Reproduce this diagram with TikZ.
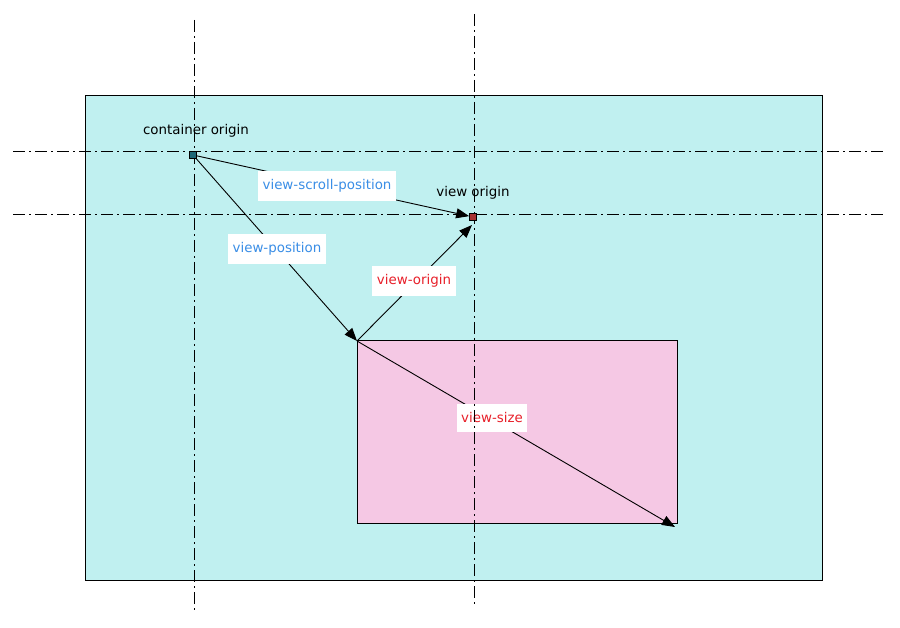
\documentclass[tikz,border=0pt]{standalone}
\usepackage{fontspec}
\setmainfont{DejaVu Sans}
\usetikzlibrary{arrows.meta}
\definecolor{cyanbg}{HTML}{C0F0F0}
\definecolor{pinkbg}{HTML}{F5C8E4}
\definecolor{bluetxt}{HTML}{3A8EE6}
\definecolor{redtxt}{HTML}{E8202A}
\definecolor{tealsq}{HTML}{1E6878}
\definecolor{redsq}{HTML}{A83232}
\tikzset{
  axisline/.style={line width=1pt, dash pattern=on 12pt off 4pt on 2pt off 4pt},
  conn/.style={line width=0.9pt, -{Triangle[length=13pt,width=10pt]}},
  lbl/.style={fill=white, inner xsep=4.5pt, inner ysep=9pt, font=\fontsize{13.4}{15}\selectfont},
  plain/.style={font=\fontsize{13.4}{15}\selectfont, inner sep=0pt},
  origsq/.style={draw=black, line width=0.7pt, minimum size=7pt, inner sep=0pt},
}
\begin{document}
\begin{tikzpicture}[x=1pt,y=-1pt]
\useasboundingbox (0,0) rectangle (900,628);
% containers
\node[draw=black, line width=0.8pt, fill=cyanbg, minimum width=737pt, minimum height=485pt, inner sep=0pt, anchor=north west] (outer) at (85,95) {};
\node[draw=black, line width=0.8pt, fill=pinkbg, minimum width=320pt, minimum height=183pt, inner sep=0pt, anchor=north west] (view) at (357,340) {};
% origin squares (positions)
\node[origsq, fill=tealsq] (co) at (193,155) {};
\node[origsq, fill=redsq] (vo) at (473,217) {};
\coordinate (vtl) at (357,341);
\coordinate (vbr) at (675,527);
\coordinate (vtip) at (472,225);
% connectors
\draw[conn] (co) -- (vtl);
\draw[conn] (co) -- (vo);
\draw[conn] (vtl) -- (vtip);
\draw[conn] (vtl) -- (vbr);
% labels
\node[lbl, text=bluetxt] (lscroll) at (327,186) {view-scroll-position};
\node[lbl, text=bluetxt] (lpos) at (277,249) {view-position};
\node[lbl, text=redtxt] (lorig) at (414,281) {view-origin};
\node[lbl, text=redtxt] (lsize) at (492,418) {view-size};
\node[plain] (tco) at (196,131) {container origin};
\node[plain] (tvo) at (473,193) {view origin};
% axis lines
\coordinate (v1a) at (194,20); \coordinate (v1b) at (194,610);
\coordinate (v2a) at (474,14); \coordinate (v2b) at (474,605);
\coordinate (h1a) at (13,152); \coordinate (h1b) at (886,152);
\coordinate (h2a) at (13,215); \coordinate (h2b) at (886,215);
\draw[axisline] (v1a) -- (v1b);
\draw[axisline] (v2a) -- (v2b);
\draw[axisline] (h1a) -- (h1b);
\draw[axisline] (h2a) -- (h2b);
% squares on top
\node[origsq, fill=tealsq] at (co) {};
\node[origsq, fill=redsq] at (vo) {};
\end{tikzpicture}
\end{document}
